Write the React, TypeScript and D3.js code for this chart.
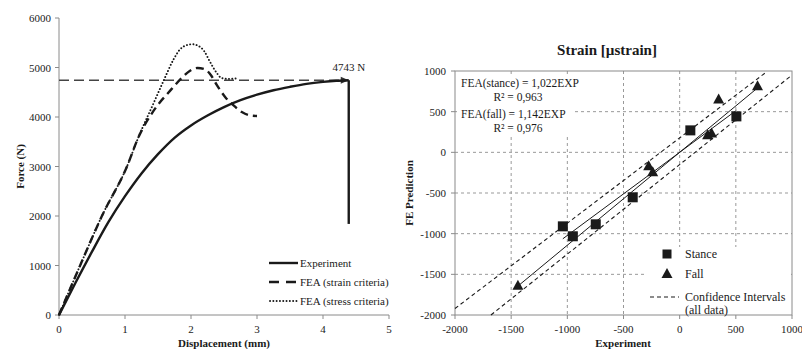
import * as d3 from "d3"

// Left panel: force vs displacement
const experiment: [number, number][] = [
  [0, 0], [0.25, 650], [0.5, 1280], [0.75, 1880], [1.0, 2400], [1.25, 2860], [1.5, 3250],
  [1.75, 3580], [2.0, 3830], [2.25, 4030], [2.5, 4200], [2.75, 4340], [3.0, 4450],
  [3.25, 4540], [3.5, 4610], [3.75, 4670], [4.0, 4710], [4.2, 4732], [4.39, 4743], [4.39, 1840],
]
const feaStrain: [number, number][] = [
  [0, 0], [0.32, 1000], [0.65, 2000], [1.03, 3000], [1.2, 3580], [1.41, 4080], [1.53, 4300],
  [1.65, 4480], [1.86, 4790], [1.98, 4930], [2.1, 4990], [2.2, 4970], [2.3, 4850], [2.39, 4650],
  [2.52, 4400], [2.64, 4240], [2.77, 4100], [2.9, 4030], [3.0, 4020],
]
const feaStress: [number, number][] = [
  [0, 0], [0.32, 1000], [0.65, 2000], [1.03, 3000], [1.2, 3580], [1.45, 4330], [1.6, 4780],
  [1.73, 5150], [1.83, 5360], [1.93, 5450], [2.02, 5470], [2.12, 5430], [2.2, 5330], [2.29, 5110],
  [2.39, 4890], [2.46, 4790], [2.55, 4770], [2.7, 4780],
]
const failureForce = 4743
const failureDisp = 4.39
const leftXTicks = [0, 1, 2, 3, 4, 5]
const leftYTicks = [0, 1000, 2000, 3000, 4000, 5000, 6000]

// Right panel: FE prediction vs experiment
const stance: [number, number][] = [
  [-1040, -910], [-951, -1032], [-747, -885], [-418, -553], [95, 270], [505, 442],
]
const fall: [number, number][] = [
  [-1440, -1640], [-276, -172], [-240, -246], [249, 209], [284, 233], [347, 651], [693, 811],
]
const stanceSlope = 1.022
const fallSlope = 1.142
const stanceRange = [-1040, 505]
const fallRange = [-1440, 693]
const ciUpper: [number, number][] = [[-2000, -1920], [760, 975]]
const ciLower: [number, number][] = [[-1680, -2000], [1000, 950]]
const rightTicks = [-2000, -1500, -1000, -500, 0, 500, 1000]

const FONT = "'Liberation Serif', 'Times New Roman', serif"
const INK = "#1a1a1a"
const AXIS = "#8a8a8a"

function LeftChart() {
  const x = d3.scaleLinear().domain([0, 5]).range([59, 389])
  const y = d3.scaleLinear().domain([0, 6000]).range([315, 18])
  const line = d3.line<[number, number]>().x(d => x(d[0])).y(d => y(d[1])).curve(d3.curveMonotoneX)
  const lineLin = d3.line<[number, number]>().x(d => x(d[0])).y(d => y(d[1]))
  const expCurve = experiment.slice(0, -1)
  const drop = experiment.slice(-2)
  const fy = y(failureForce)
  const fx = x(failureDisp)

  return (
    <g fontFamily={FONT} fill={INK}>
      {/* axes */}
      <line x1={x(0)} x2={x(0)} y1={y(6000)} y2={y(0)} stroke={AXIS} />
      <line x1={x(0)} x2={x(5)} y1={y(0)} y2={y(0)} stroke={AXIS} />
      {leftYTicks.map(t => (
        <g key={t}>
          <line x1={x(0) - 4} x2={x(0)} y1={y(t)} y2={y(t)} stroke={AXIS} />
          <text x={x(0) - 8} y={y(t)} fontSize={11} textAnchor="end" dominantBaseline="central">{t}</text>
        </g>
      ))}
      {leftXTicks.map(t => (
        <g key={t}>
          <line x1={x(t)} x2={x(t)} y1={y(0)} y2={y(0) + 4} stroke={AXIS} />
          <text x={x(t)} y={329} fontSize={11} textAnchor="middle" dominantBaseline="central">{t}</text>
        </g>
      ))}
      <text x={224} y={343} fontSize={11} fontWeight="bold" textAnchor="middle" dominantBaseline="central">Displacement (mm)</text>
      <text transform={`translate(20,${(y(0) + y(6000)) / 2}) rotate(-90)`} fontSize={11} fontWeight="bold" textAnchor="middle" dominantBaseline="central">Force (N)</text>

      {/* failure load reference */}
      <line x1={x(0)} x2={fx - 6} y1={fy} y2={fy} stroke="#444" strokeWidth={1.4} strokeDasharray="10,5" />
      <path d={`M${fx},${fy} L${fx - 8},${fy - 3.5} L${fx - 8},${fy + 3.5} Z`} fill="#333" />
      <text x={fx} y={fy - 13} fontSize={11} textAnchor="middle" dominantBaseline="central">{failureForce} N</text>

      {/* curves */}
      <path d={line(feaStress) || ""} fill="none" stroke={INK} strokeWidth={1.9} strokeDasharray="0.1,3.2" strokeLinecap="round" />
      <path d={line(feaStrain) || ""} fill="none" stroke={INK} strokeWidth={2.4} strokeDasharray="8,5" />
      <path d={line(expCurve) || ""} fill="none" stroke={INK} strokeWidth={2.4} />
      <path d={lineLin(drop) || ""} fill="none" stroke={INK} strokeWidth={2.4} />

      {/* legend */}
      <line x1={269} x2={298} y1={263} y2={263} stroke={INK} strokeWidth={2.4} />
      <text x={300} y={263} fontSize={11} dominantBaseline="central">Experiment</text>
      <line x1={269} x2={298} y1={282} y2={282} stroke={INK} strokeWidth={2.4} strokeDasharray="10,7" />
      <text x={300} y={282} fontSize={11} dominantBaseline="central">FEA (strain criteria)</text>
      <line x1={270} x2={297} y1={301} y2={301} stroke={INK} strokeWidth={1.9} strokeDasharray="0.1,3.2" strokeLinecap="round" />
      <text x={300} y={301} fontSize={11} dominantBaseline="central">FEA (stress criteria)</text>
    </g>
  )
}

function RightChart() {
  const x = d3.scaleLinear().domain([-2000, 1000]).range([455, 792])
  const y = d3.scaleLinear().domain([-2000, 1000]).range([315, 71])
  const lineLin = d3.line<[number, number]>().x(d => x(d[0])).y(d => y(d[1]))
  const stanceFit: [number, number][] = stanceRange.map(v => [v, v * stanceSlope])
  const fallFit: [number, number][] = fallRange.map(v => [v, v * fallSlope])
  const grid = rightTicks.slice(1, -1)
  const sq = 10
  const tri = (cx: number, cy: number) => `M${cx},${cy - 6} L${cx + 5.5},${cy + 4} L${cx - 5.5},${cy + 4} Z`

  return (
    <g fontFamily={FONT} fill={INK}>
      <text x={607} y={50} fontSize={15} fontWeight="bold" textAnchor="middle" dominantBaseline="central">Strain [µstrain]</text>

      {/* grid */}
      {grid.map(t => (
        <line key={"gx" + t} x1={x(t)} x2={x(t)} y1={y(1000)} y2={y(-2000)} stroke="#999" strokeDasharray="3,3" />
      ))}
      {grid.map(t => (
        <line key={"gy" + t} x1={x(-2000)} x2={x(1000)} y1={y(t)} y2={y(t)} stroke="#999" strokeDasharray="3,3" />
      ))}

      {/* white boxes behind labels */}
      <rect x={457} y={74} width={128} height={29} fill="#fff" />
      <rect x={457} y={103} width={118} height={32} fill="#fff" />
      <rect x={645} y={247} width={146} height={67} fill="#fff" />

      {/* frame */}
      <rect x={x(-2000)} y={y(1000)} width={x(1000) - x(-2000)} height={y(-2000) - y(1000)} fill="none" stroke={AXIS} />
      {rightTicks.map(t => (
        <g key={t}>
          <line x1={x(-2000) - 4} x2={x(-2000)} y1={y(t)} y2={y(t)} stroke={AXIS} />
          <text x={x(-2000) - 9} y={y(t)} fontSize={11} textAnchor="end" dominantBaseline="central">{t}</text>
          <line x1={x(t)} x2={x(t)} y1={y(-2000)} y2={y(-2000) + 4} stroke={AXIS} />
          <text x={x(t)} y={329} fontSize={11} textAnchor="middle" dominantBaseline="central">{t}</text>
        </g>
      ))}
      <text x={623} y={343} fontSize={11} fontWeight="bold" textAnchor="middle" dominantBaseline="central">Experiment</text>
      <text transform={`translate(409,${(y(1000) + y(-2000)) / 2}) rotate(-90)`} fontSize={11} fontWeight="bold" textAnchor="middle" dominantBaseline="central">FE Prediction</text>

      {/* confidence intervals and fits */}
      <path d={lineLin(ciUpper) || ""} stroke={INK} strokeWidth={1.1} strokeDasharray="4,3" fill="none" />
      <path d={lineLin(ciLower) || ""} stroke={INK} strokeWidth={1.1} strokeDasharray="4,3" fill="none" />
      <path d={lineLin(stanceFit) || ""} stroke={INK} strokeWidth={1} fill="none" />
      <path d={lineLin(fallFit) || ""} stroke={INK} strokeWidth={1} fill="none" />

      {/* points */}
      {stance.map((d, i) => (
        <rect key={"s" + i} x={x(d[0]) - sq / 2} y={y(d[1]) - sq / 2} width={sq} height={sq} fill={INK} />
      ))}
      {fall.map((d, i) => (
        <path key={"f" + i} d={tri(x(d[0]), y(d[1]))} fill={INK} />
      ))}

      {/* fit annotations */}
      <text x={461} y={83} fontSize={11.5} dominantBaseline="central">FEA(stance) = 1,022EXP</text>
      <text x={518} y={97} fontSize={11.5} textAnchor="middle" dominantBaseline="central">R² = 0,963</text>
      <text x={461} y={114} fontSize={11.5} dominantBaseline="central">FEA(fall) = 1,142EXP</text>
      <text x={518} y={128} fontSize={11.5} textAnchor="middle" dominantBaseline="central">R² = 0,976</text>

      {/* legend */}
      <rect x={667 - 4.5} y={254 - 4.5} width={9} height={9} fill={INK} />
      <text x={685} y={254} fontSize={12} dominantBaseline="central">Stance</text>
      <path d={tri(667, 274)} fill={INK} />
      <text x={685} y={274} fontSize={12} dominantBaseline="central">Fall</text>
      <line x1={650} x2={679} y1={297} y2={297} stroke={INK} strokeWidth={1.1} strokeDasharray="4,3" />
      <text x={685} y={297} fontSize={12} dominantBaseline="central">Confidence Intervals</text>
      <text x={685} y={310} fontSize={12} dominantBaseline="central">(all data)</text>
    </g>
  )
}

export default function App() {
  return (
    <svg width={802} height={349} style={{ position: "absolute", left: 0, top: 0, background: "#fff" }}>
      <LeftChart />
      <RightChart />
    </svg>
  )
}
